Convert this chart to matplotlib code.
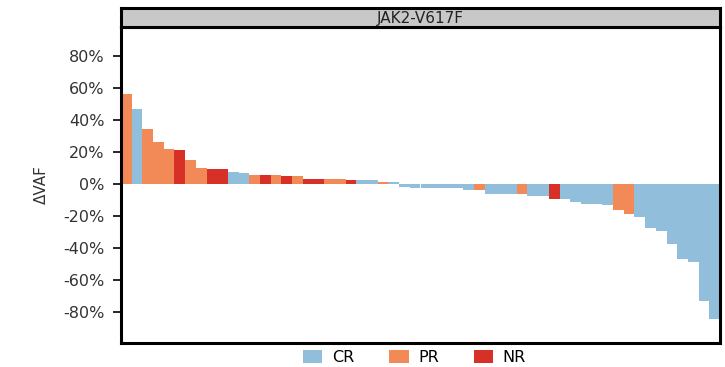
import matplotlib.pyplot as plt
from matplotlib.patches import Patch
from matplotlib.ticker import PercentFormatter

plt.rcParams['axes.unicode_minus'] = False

# change in variant allele fraction (%) per patient, sorted high to low
delta_vaf = [56.2, 47.2, 34.3, 26.3, 21.9, 21.1, 15.0, 10.0, 9.2, 9.2,
             7.7, 7.1, 5.9, 5.9, 5.8, 5.0, 5.0, 3.1, 3.1, 3.0,
             2.9, 2.3, 2.3, 2.2, 1.1, 1.0, -1.7, -2.6, -2.6, -2.6,
             -2.6, -2.6, -3.5, -3.5, -6.4, -6.4, -6.4, -6.4, -7.7, -7.7,
             -9.6, -9.6, -11.5, -12.5, -12.5, -13.4, -16.6, -18.6, -20.5, -27.5,
             -29.5, -37.4, -47.2, -49.1, -73.2, -84.4]

response = ['PR', 'CR', 'PR', 'PR', 'PR', 'NR', 'PR', 'PR', 'NR', 'NR',
            'CR', 'CR', 'PR', 'NR', 'PR', 'NR', 'PR', 'NR', 'NR', 'PR',
            'PR', 'NR', 'CR', 'CR', 'PR', 'CR', 'CR', 'CR', 'CR', 'CR',
            'CR', 'CR', 'CR', 'PR', 'CR', 'CR', 'CR', 'PR', 'CR', 'CR',
            'NR', 'CR', 'CR', 'CR', 'CR', 'CR', 'PR', 'PR', 'CR', 'CR',
            'CR', 'CR', 'CR', 'CR', 'CR', 'CR']

groups = ['CR', 'PR', 'NR']
group_colors = {'CR': '#91bfdb', 'PR': '#f28a57', 'NR': '#d73027'}

yticks = [-80, -60, -40, -20, 0, 20, 40, 60, 80]

fig = plt.figure(figsize=(7.25, 3.67), dpi=100)
ax = fig.add_axes([121 / 725, 24 / 367, 599 / 725, 316 / 367])

x = range(len(delta_vaf))
ax.bar(x, delta_vaf, width=1.0, color=[group_colors[r] for r in response],
       edgecolor='none')

ax.set_xlim(-0.5, len(delta_vaf) - 0.5)
ax.set_ylim(-99.7, 98.4)
ax.set_xticks([])
ax.set_yticks(yticks)
ax.yaxis.set_major_formatter(PercentFormatter(xmax=100, decimals=0))
ax.tick_params(axis='y', length=6, width=1.2, labelsize=11.5,
               labelcolor='#333333', pad=6)
for side in ['left', 'right', 'top', 'bottom']:
    ax.spines[side].set_linewidth(2.2)
ax.set_ylabel('\u0394VAF', fontsize=11, color='#333333', labelpad=10)

# facet strip above the panel
strip = fig.add_axes([121 / 725, 340 / 367, 599 / 725, 19 / 367])
strip.set_facecolor('#c8c8c8')
strip.set_xticks([])
strip.set_yticks([])
for side in ['left', 'right', 'top', 'bottom']:
    strip.spines[side].set_linewidth(2.2)
strip.text(0.5, 0.45, 'JAK2-V617F', ha='center', va='center',
           fontsize=11, color='#222222', transform=strip.transAxes)

handles = [Patch(facecolor=group_colors[g], edgecolor='none') for g in groups]
fig.legend(handles, groups, loc='center', bbox_to_anchor=(0.572, 0.027),
           ncol=3, frameon=False, fontsize=11.5, handlelength=1.2,
           handleheight=0.9, columnspacing=2.2, handletextpad=0.6)

fig.savefig('out.png', dpi=100)
